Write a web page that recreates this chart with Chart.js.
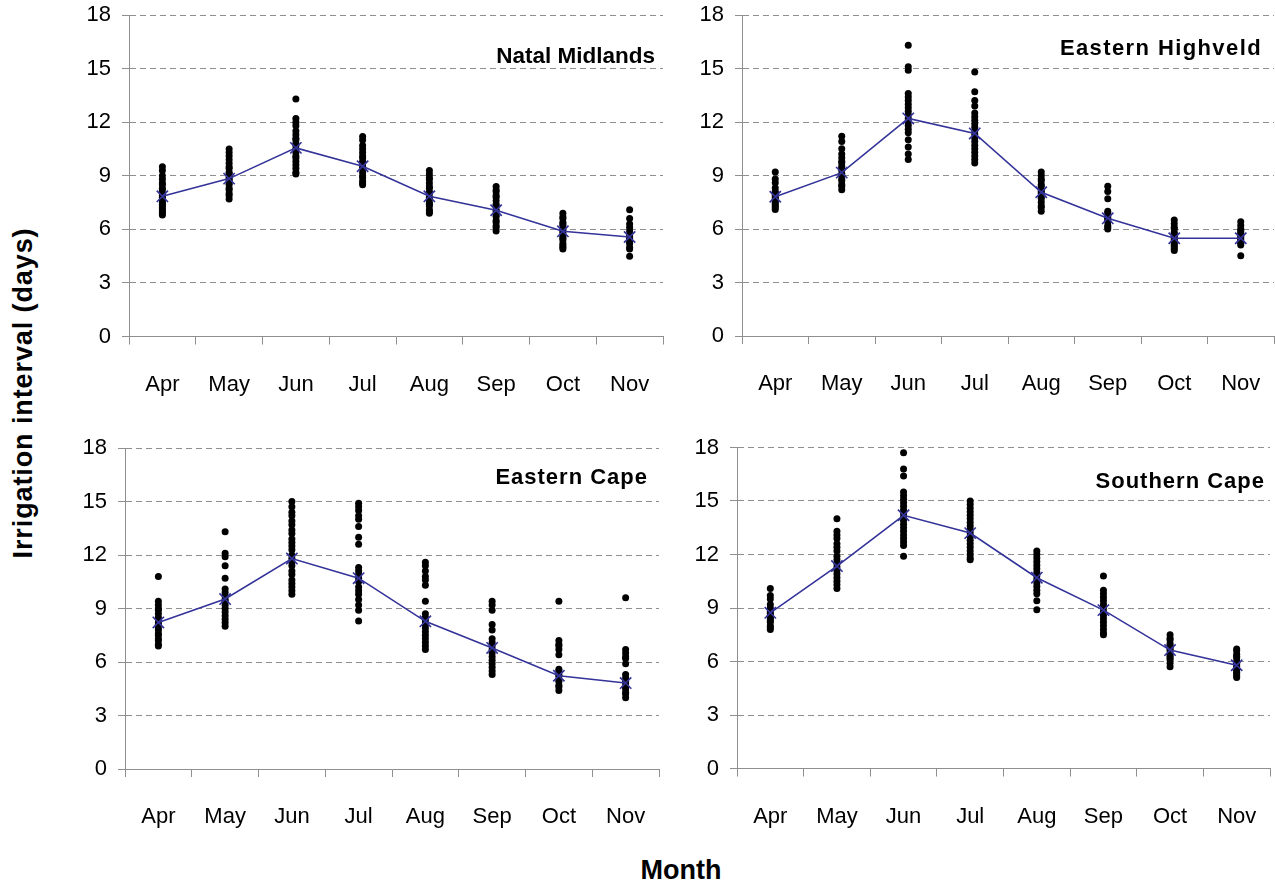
<!DOCTYPE html>
<html>
<head>
<meta charset="utf-8">
<script src="https://cdn.jsdelivr.net/npm/chart.js@4.4.1/dist/chart.umd.min.js"></script>
<style>
  body { margin: 0; background: #fff; width: 1275px; height: 884px; position: relative; overflow: hidden; }
  canvas { position: absolute; }
  .ttl { position: absolute; font-family: "Liberation Sans", Arial, sans-serif; font-weight: bold; font-size: 22px; line-height: 22px; white-space: nowrap; color: #000; }
  .axis-title { position: absolute; font-family: "Liberation Sans", Arial, sans-serif; font-weight: bold; font-size: 27px; line-height: 27px; white-space: nowrap; color: #000; }
</style>
</head>
<body>

<canvas id="c1" width="625" height="410" style="left:50px;top:0px"></canvas>
<canvas id="c2" width="595" height="410" style="left:680px;top:0px"></canvas>
<canvas id="c3" width="620" height="410" style="left:50px;top:433px"></canvas>
<canvas id="c4" width="595" height="410" style="left:680px;top:432px"></canvas>

<div class="ttl" style="right:620px;top:45px;font-size:22.5px">Natal Midlands</div>
<div class="ttl" style="right:13px;top:37px;letter-spacing:1.4px">Eastern Highveld</div>
<div class="ttl" style="right:627px;top:466px;letter-spacing:1px">Eastern Cape</div>
<div class="ttl" style="right:10px;top:470px;letter-spacing:1px">Southern Cape</div>

<div class="axis-title" style="left:23px;top:393px;letter-spacing:0.9px;transform:translate(-50%,-50%) rotate(-90deg)">Irrigation interval (days)</div>
<div class="axis-title" style="left:681px;top:870px;transform:translate(-50%,-50%)">Month</div>

<script>
const months = ["Apr", "May", "Jun", "Jul", "Aug", "Sep", "Oct", "Nov"];
const yTicks = [0, 3, 6, 9, 12, 15, 18];

// Natal Midlands
const natalMean = [7.85, 8.84, 10.56, 9.53, 7.85, 7.07, 5.89, 5.57];
const natalDots = [
  [9.5, 9.3, 9.0, 8.8, 8.6, 8.5, 8.3, 8.2, 8.0, 7.9, 7.8, 7.7, 7.6, 7.5, 7.4, 7.3, 7.2, 7.1, 7.0, 6.9, 6.8],
  [10.5, 10.3, 10.1, 9.9, 9.7, 9.5, 9.4, 9.2, 9.1, 9.0, 8.9, 8.8, 8.7, 8.6, 8.5, 8.3, 8.2, 8.0, 7.9, 7.7],
  [13.3, 12.2, 12.0, 11.8, 11.5, 11.3, 11.1, 11.0, 10.8, 10.7, 10.5, 10.3, 10.1, 10.0, 9.8, 9.6, 9.4, 9.2, 9.1],
  [11.2, 11.0, 10.7, 10.5, 10.3, 10.1, 10.0, 9.8, 9.7, 9.5, 9.4, 9.2, 9.0, 8.9, 8.7, 8.6, 8.5],
  [9.3, 9.1, 8.9, 8.8, 8.6, 8.4, 8.3, 8.1, 8.0, 7.8, 7.7, 7.5, 7.4, 7.3, 7.1, 7.0, 6.9],
  [8.4, 8.2, 8.1, 7.9, 7.8, 7.6, 7.4, 7.3, 7.1, 7.0, 6.8, 6.7, 6.5, 6.4, 6.2, 6.1, 5.9],
  [6.9, 6.7, 6.6, 6.4, 6.3, 6.2, 6.0, 5.9, 5.8, 5.6, 5.5, 5.4, 5.2, 5.1, 5.0, 4.9],
  [7.1, 6.6, 6.3, 6.1, 5.9, 5.7, 5.6, 5.5, 5.3, 5.2, 5.0, 4.9, 4.5]
];

// Eastern Highveld
const highveldMean = [7.81, 9.16, 12.2, 11.36, 8.06, 6.6, 5.48, 5.48];
const highveldDots = [
  [9.2, 8.8, 8.6, 8.3, 8.1, 8.0, 7.9, 7.8, 7.7, 7.6, 7.5, 7.4, 7.3, 7.2, 7.1],
  [11.2, 10.9, 10.5, 10.2, 10.0, 9.8, 9.7, 9.5, 9.4, 9.3, 9.1, 9.0, 8.8, 8.7, 8.5, 8.4, 8.2],
  [16.3, 15.1, 14.9, 13.6, 13.4, 13.2, 13.0, 12.8, 12.6, 12.4, 12.2, 12.0, 11.8, 11.6, 11.4, 11.0, 10.6, 10.2, 9.9],
  [14.8, 13.7, 13.2, 12.9, 12.5, 12.3, 12.1, 11.9, 11.7, 11.5, 11.3, 11.1, 10.9, 10.7, 10.5, 10.3, 10.1, 9.9, 9.7],
  [9.2, 9.0, 8.8, 8.7, 8.5, 8.4, 8.2, 8.1, 8.0, 7.8, 7.7, 7.5, 7.3, 7.2, 7.0],
  [8.4, 8.1, 7.7, 7.0, 6.9, 6.7, 6.6, 6.5, 6.4, 6.2, 6.1, 6.0],
  [6.5, 6.3, 6.1, 6.0, 5.8, 5.7, 5.6, 5.5, 5.4, 5.3, 5.2, 5.1, 5.0, 4.9, 4.8],
  [6.4, 6.2, 6.0, 5.9, 5.8, 5.7, 5.6, 5.5, 5.4, 5.3, 5.2, 5.1, 4.5]
];

// Eastern Cape
const easternCapeMean = [8.22, 9.53, 11.8, 10.7, 8.28, 6.79, 5.23, 4.82];
const easternCapeDots = [
  [10.8, 9.4, 9.2, 9.0, 8.9, 8.7, 8.5, 8.4, 8.2, 8.1, 7.9, 7.8, 7.6, 7.5, 7.3, 7.2, 7.0, 6.9],
  [13.3, 12.1, 11.9, 11.4, 10.7, 10.1, 9.9, 9.7, 9.5, 9.4, 9.2, 9.0, 8.8, 8.6, 8.4, 8.2, 8.0],
  [15.0, 14.7, 14.4, 14.2, 13.9, 13.7, 13.4, 13.2, 12.9, 12.7, 12.5, 12.3, 12.0, 11.8, 11.6, 11.4, 11.1, 10.9, 10.6, 10.4, 10.2, 10.0, 9.8],
  [14.9, 14.7, 14.5, 14.2, 14.0, 13.6, 13.0, 12.6, 11.3, 11.1, 10.9, 10.7, 10.5, 10.2, 10.0, 9.8, 9.5, 9.2, 8.9, 8.3],
  [11.6, 11.4, 11.1, 10.8, 10.6, 10.3, 9.4, 8.7, 8.5, 8.3, 8.1, 7.9, 7.7, 7.5, 7.3, 7.1, 6.9, 6.7],
  [9.4, 9.2, 8.9, 8.1, 7.8, 7.3, 7.1, 6.9, 6.7, 6.5, 6.3, 6.1, 5.9, 5.7, 5.5, 5.3],
  [9.4, 7.2, 7.0, 6.9, 6.7, 6.4, 5.6, 5.5, 5.3, 5.2, 5.0, 4.9, 4.7, 4.6, 4.4],
  [9.6, 6.7, 6.5, 6.3, 6.2, 5.9, 5.3, 5.1, 4.9, 4.8, 4.6, 4.5, 4.3, 4.2, 4.0]
];

// Southern Cape
const southernCapeMean = [8.73, 11.35, 14.2, 13.2, 10.7, 8.88, 6.64, 5.79];
const southernCapeDots = [
  [10.1, 9.7, 9.5, 9.2, 9.0, 8.9, 8.8, 8.7, 8.6, 8.5, 8.4, 8.3, 8.2, 8.0, 7.9, 7.8],
  [14.0, 13.3, 13.1, 12.9, 12.6, 12.4, 12.2, 11.9, 11.7, 11.5, 11.3, 11.1, 10.9, 10.7, 10.5, 10.3, 10.1],
  [17.7, 16.8, 16.4, 15.5, 15.3, 15.1, 14.9, 14.7, 14.5, 14.3, 14.1, 13.9, 13.7, 13.5, 13.3, 13.1, 12.9, 12.7, 12.5, 11.9],
  [15.0, 14.8, 14.6, 14.4, 14.2, 14.0, 13.8, 13.6, 13.4, 13.2, 13.0, 12.8, 12.6, 12.4, 12.2, 12.0, 11.8, 11.7],
  [12.2, 12.0, 11.8, 11.6, 11.4, 11.2, 11.0, 10.8, 10.6, 10.4, 10.2, 10.0, 9.8, 9.4, 8.9],
  [10.8, 10.0, 9.8, 9.6, 9.4, 9.2, 9.0, 8.8, 8.6, 8.4, 8.2, 8.0, 7.8, 7.6, 7.5],
  [7.5, 7.3, 7.2, 7.0, 6.9, 6.8, 6.7, 6.6, 6.4, 6.3, 6.2, 6.1, 5.9, 5.7],
  [6.7, 6.6, 6.4, 6.3, 6.2, 6.0, 5.9, 5.8, 5.7, 5.6, 5.5, 5.4, 5.3, 5.2, 5.1]
];

Chart.defaults.font.family = "'Liberation Sans', Arial, sans-serif";
Chart.defaults.font.size = 22;
Chart.defaults.color = "#000";

const gridGray = "#8f8f8f";
const lineBlue = "#333399";

function makePanel(id, dots, means, yWidth, xHeight, pad) {
    var points = new Array();
    dots.forEach((list, i) => {
        list.forEach((v) => {
            points.push({x: months[i], y: v});
        });
    });

    const ctx = document.getElementById(id).getContext("2d");
    return new Chart(ctx, {
        data: {
            labels: months,
            datasets: [
                {
                    type: 'line',
                    label: "mean",
                    data: means,
                    borderColor: lineBlue,
                    borderWidth: 1.6,
                    tension: 0,
                    pointStyle: 'crossRot',
                    pointRadius: 8,
                    pointBorderColor: lineBlue,
                    pointBorderWidth: 1.6,
                    order: 1
                },
                {
                    type: 'line',
                    label: "years",
                    data: points,
                    showLine: false,
                    pointStyle: 'circle',
                    pointRadius: 3.5,
                    pointBackgroundColor: "#000",
                    pointBorderWidth: 0,
                    order: 2
                }
            ]
        },
        options: {
            responsive: false,
            animation: false,
            events: [],
            layout: { padding: pad, autoPadding: false },
            plugins: {
                legend: { display: false },
                tooltip: { enabled: false }
            },
            scales: {
                x: {
                    type: 'category',
                    offset: true,
                    grid: {
                        offset: true,
                        drawOnChartArea: false,
                        drawTicks: true,
                        tickLength: 8,
                        color: gridGray,
                        lineWidth: 1
                    },
                    border: { display: true, color: gridGray, width: 1 },
                    ticks: { padding: 27, maxRotation: 0, autoSkip: false },
                    afterFit: (scale) => {
                        scale.height = xHeight;
                        scale.paddingLeft = 0;
                        scale.paddingRight = 0;
                    }
                },
                y: {
                    min: 0,
                    max: 18,
                    afterBuildTicks: (scale) => { scale.ticks = yTicks.map(v => ({value: v})); },
                    grid: {
                        color: gridGray,
                        lineWidth: 1,
                        tickLength: 7,
                        tickBorderDash: []
                    },
                    border: { display: true, color: gridGray, width: 1, dash: [6, 4] },
                    ticks: { padding: 11 },
                    afterFit: (scale) => {
                        scale.width = yWidth;
                        scale.paddingTop = 0;
                        scale.paddingBottom = 0;
                    }
                }
            }
        }
    });
}

makePanel("c1", natalDots, natalMean, 79, 73.5, {top: 15, right: 12, left: 0, bottom: 0});
makePanel("c2", highveldDots, highveldMean, 62, 74, {top: 15, right: 1, left: 0, bottom: 0});
makePanel("c3", easternCapeDots, easternCapeMean, 75, 74, {top: 15, right: 11, left: 0, bottom: 0});
makePanel("c4", southernCapeDots, southernCapeMean, 57, 73.5, {top: 15.5, right: 5, left: 0, bottom: 0});
</script>
</body>
</html>
